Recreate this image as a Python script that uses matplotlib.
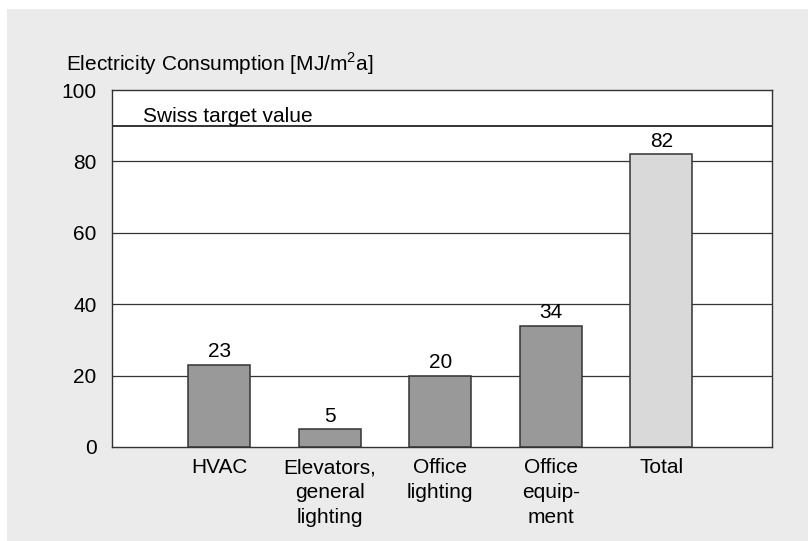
import matplotlib
matplotlib.use('Agg')
import matplotlib.pyplot as plt
from matplotlib.patches import Rectangle

plt.rcParams['font.family'] = ['Liberation Sans', 'DejaVu Sans']
plt.rcParams['font.size'] = 15

# electricity consumption per category [MJ/m2a]
categories = ['HVAC', 'Elevators,\ngeneral\nlighting', 'Office\nlighting', 'Office\nequip-\nment', 'Total']
values = [23, 5, 20, 34, 82]
bar_colors = ['#999999', '#999999', '#999999', '#999999', '#d9d9d9']
target_value = 90
y_ticks = [0, 20, 40, 60, 80, 100]

fig = plt.figure(figsize=(8.08, 5.41), dpi=100)
fig.patch.set_facecolor('white')
# grey panel behind the chart
fig.patches.append(Rectangle((7 / 808, 0), 1 - 7 / 808, 1 - 9 / 541,
                             transform=fig.transFigure, facecolor='#ebebeb',
                             edgecolor='none', zorder=-10))

ax = fig.add_axes([112 / 808, (541 - 447) / 541, 660 / 808, 357 / 541])
ax.set_facecolor('white')

x = list(range(len(categories)))
bars = ax.bar(x, values, width=0.56, color=bar_colors, edgecolor='#333333',
              linewidth=1.1, zorder=3)
for b, v in zip(bars, values):
    ax.annotate(str(v), (b.get_x() + b.get_width() / 2, v), xytext=(0, 2.5),
                textcoords='offset points', ha='center', va='bottom')

for t in y_ticks[1:-1]:
    ax.axhline(t, color='#333333', linewidth=0.9, zorder=1)
ax.axhline(target_value, color='#111111', linewidth=1.2, zorder=1)
ax.text(0.047, 91.0, 'Swiss target value', transform=ax.get_yaxis_transform(),
        ha='left', va='baseline')

ax.set_xlim(-0.97, 5.0)
ax.set_ylim(0, 100)
ax.set_yticks(y_ticks)
ax.set_xticks(x)
ax.set_xticklabels(categories, linespacing=1.38)
ax.tick_params(axis='both', length=0, labelsize=15)
ax.tick_params(axis='y', pad=11)
ax.tick_params(axis='x', pad=8)
for s in ax.spines.values():
    s.set_color('#333333')
    s.set_linewidth(1.0)

fig.text(66 / 808, 1 - 64 / 541, r'Electricity Consumption [MJ/m$^{\mathregular{2}}$a]',
         ha='left', va='center')

fig.savefig('out.png', dpi=100, facecolor=fig.get_facecolor())
